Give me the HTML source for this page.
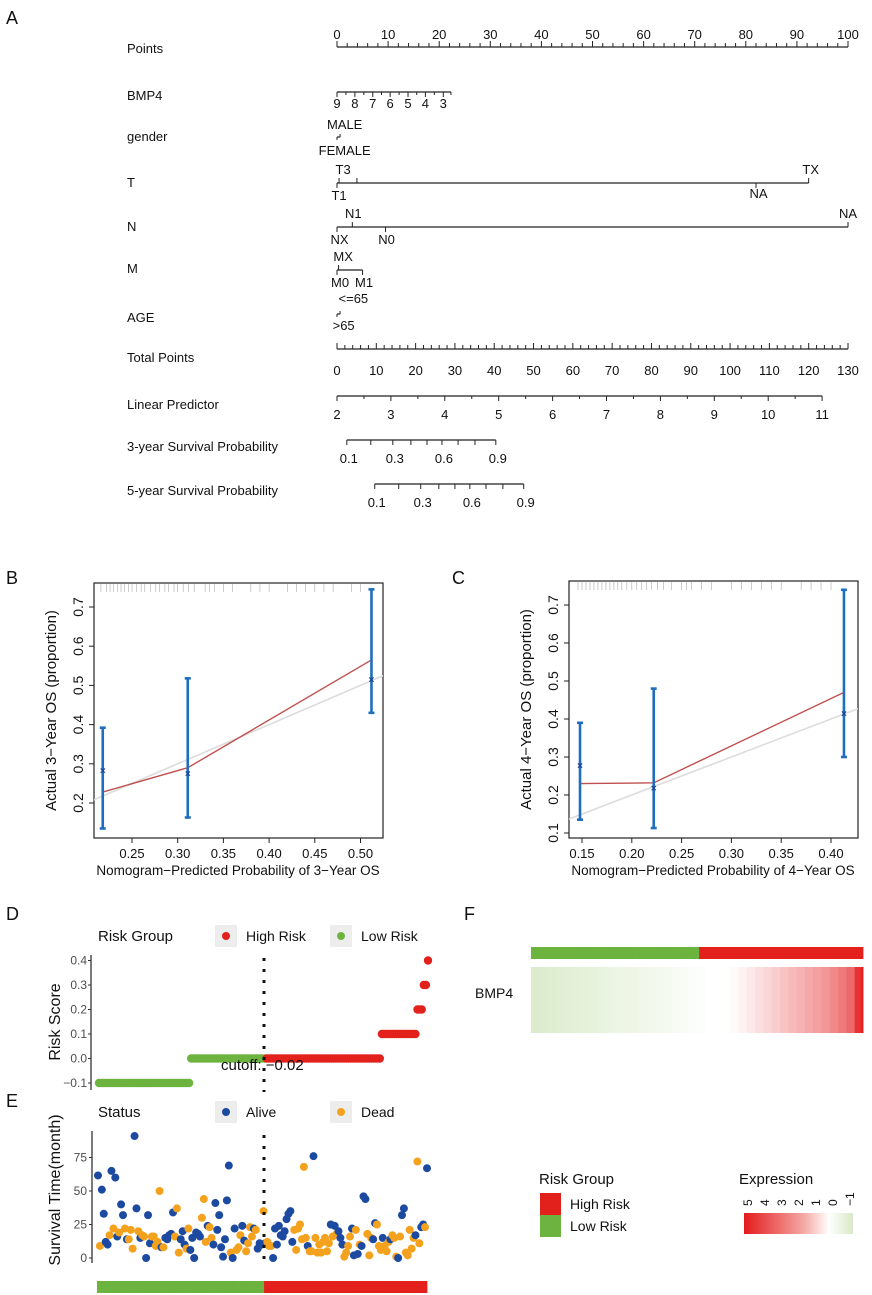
<!DOCTYPE html>
<html><head><meta charset="utf-8"><style>
html,body{margin:0;padding:0;background:#fff}
svg{display:block;font-family:"Liberation Sans",Arial,sans-serif}
</style></head><body>
<svg id="fig" width="872" height="1295" viewBox="0 0 872 1295" xmlns="http://www.w3.org/2000/svg">
<defs>
<linearGradient id="exprGrad" x1="0" x2="1" y1="0" y2="0">
<stop offset="0" stop-color="#e41a1c"/><stop offset="0.55" stop-color="#f4a9a4"/><stop offset="0.78" stop-color="#ffffff"/><stop offset="1" stop-color="#d8e8c8"/>
</linearGradient>
<clipPath id="clipB"><rect x="94" y="583" width="289" height="255"/></clipPath>
<clipPath id="clipC"><rect x="569" y="581" width="289" height="257"/></clipPath>
</defs>
<g font-size="18" fill="#111">
<text x="6" y="24">A</text>
<text x="6" y="584">B</text>
<text x="452" y="584">C</text>
<text x="6" y="920">D</text>
<text x="6" y="1107">E</text>
<text x="464" y="920">F</text>
</g>
<g id="nomo"></g>
<g id="calB"></g>
<g id="calC"></g>
<g id="panD"></g>
<g id="panE"></g>
<g id="panF"></g>
</svg>
<script>
// ---------- data ----------
const pointTicks=[0,10,20,30,40,50,60,70,80,90,100];
const bmp4Labels=[9,8,7,6,5,4,3];
const bmp4Points=[0,3.5,7,10.4,13.9,17.3,20.8];
const totalTicks=[0,10,20,30,40,50,60,70,80,90,100,110,120,130];
const lpTicks=[2,3,4,5,6,7,8,9,10,11];
const surv3Probs=[0.1,0.2,0.3,0.4,0.5,0.6,0.7,0.8,0.9];
const surv3Total=[2.5,8.6,14.2,18.8,22.9,26.7,30.8,35.1,40.4];
const surv5Total=[9.6,15.7,21.3,25.9,30,33.8,37.9,42.2,47.5];
const probLabels=["0.1","","0.3","","","0.6","","","0.9"];

const calBx=[0.218,0.311,0.512];
const calBobs=[0.283,0.275,0.515];
const calBlo=[0.135,0.163,0.43];
const calBhi=[0.392,0.518,0.745];
const calBfit=[0.228,0.29,0.565];
const calCx=[0.148,0.222,0.413];
const calCobs=[0.278,0.218,0.415];
const calClo=[0.135,0.113,0.30];
const calChi=[0.39,0.48,0.74];
const calCfit=[0.23,0.232,0.47];
const rugB=[0.216,0.222,0.226,0.23,0.234,0.238,0.242,0.246,0.25,0.255,0.26,0.264,0.27,0.276,0.28,0.286,0.29,0.296,0.3,0.306,0.312,0.318,0.33,0.335,0.34,0.35,0.36,0.38,0.39,0.4,0.42,0.43,0.44,0.45,0.46,0.47,0.49,0.5];
const rugC=[0.146,0.15,0.154,0.158,0.162,0.166,0.17,0.174,0.178,0.182,0.186,0.19,0.195,0.2,0.205,0.21,0.215,0.22,0.226,0.232,0.24,0.25,0.255,0.26,0.27,0.28,0.3,0.31,0.32,0.33,0.34,0.35,0.37,0.38,0.39,0.4];

const riskLevels=[-0.1,0.0,0.0,0.1,0.2,0.3,0.4];
const riskCounts=[44,36,55,17,3,2,1];
const riskHigh=[false,false,true,true,true,true,true];

const survTime=[61.6,9,51,33,12,10,17,65,22,60,16,19,40,32,22,14,14,21,7,91,37,20,15,17,16,0,32,11,16,16,9,12,50,8,8,15,14,17,18,34,16,37,4,14,20,10,7,22,6,15,0,19,18,16,30,44,12,24,23,15,10,41,21,32,8,1,14,43,69,4,0,22,6,8,17,24,13,5,11,23,16,22,21,7,11,10,35,11,12,9,9,0,22,10,24,17,16,20,29,33,35,12,21,6,22,25,14,68,15,9,5,5,76,15,4,10,4,12,15,5,11,25,16,24,18,20,15,10,1,4,9,16,22,2,21,3,10,9,46,44,18,2,15,14,26,25,9,6,15,9,5,12,14,17,15,1,0,16,32,37,4,2,21,7,15,17,72,11,23,25,23,67];
const survDead=[0,1,0,0,0,0,1,0,1,0,0,1,0,0,1,0,1,1,1,0,0,1,0,1,1,0,0,0,1,1,1,1,1,0,1,0,0,0,0,0,1,1,1,0,0,0,1,1,0,0,0,0,0,0,1,1,1,0,1,1,0,0,0,0,0,0,0,0,0,1,0,0,1,1,1,0,0,1,1,1,1,0,1,0,0,0,1,0,1,1,1,0,0,0,0,0,0,0,0,0,0,0,1,1,1,1,1,1,1,0,1,1,0,1,1,1,1,1,1,1,1,0,1,0,1,0,0,0,1,1,1,1,0,0,1,0,1,0,0,0,1,1,1,0,0,1,1,1,0,1,1,1,0,1,1,1,0,1,0,0,1,1,1,1,1,0,1,1,0,0,1,0];

const heatExpr=[-0.9,-0.85,-0.8,-0.75,-0.7,-0.68,-0.65,-0.6,-0.55,-0.5,-0.47,-0.44,-0.4,-0.36,-0.32,-0.28,-0.24,-0.2,-0.15,-0.1,-0.06,-0.02,0,0,0.1,0.3,0.5,0.7,0.9,1.1,1.3,1.5,1.7,1.9,2.1,2.3,2.6,2.9,3.3,4.5];
const exprLegendLabels=["5","4","3","2","1","0","\u22121"];

// ---------- helpers ----------
const NS="http://www.w3.org/2000/svg";
function mk(tag,attrs,parent){const e=document.createElementNS(NS,tag);for(const k in attrs)e.setAttribute(k,attrs[k]);parent.appendChild(e);return e;}
function txt(s,attrs,parent){const e=mk('text',attrs,parent);e.textContent=s;return e;}

// ---------- A: nomogram ----------
const N=document.getElementById('nomo');
const px=p=>337+p*5.11;
const tpx=t=>337+t*511/130;
const lpx=v=>337+(v-2)*53.9;
const LBL={'font-size':13,fill:'#111'};
function rowLabel(s,y){const t=txt(s,Object.assign({x:127,y:y},LBL),N);

}
function hline(x1,x2,y){const l=mk('line',{x1:x1,x2:x2,y1:y,y2:y,stroke:'#222','stroke-width':1.2},N);

}
function tick(x,y,d){const l=mk('line',{x1:x,x2:x,y1:y,y2:y+d,stroke:'#222','stroke-width':1},N);

}
function tlab(s,x,y){const t=txt(s,Object.assign({x:x,y:y,'text-anchor':'middle'},LBL),N);

}

rowLabel('Points',53);
hline(px(0),px(100),47);
for(let p=0;p<=100;p+=2)tick(px(p),47,p%10===0?-6:-4);
pointTicks.forEach(p=>tlab(String(p),px(p),39));

rowLabel('BMP4',100);
hline(px(0),px(22.3),92);
bmp4Points.forEach((p,i)=>{tick(px(p),92,5);tlab(String(bmp4Labels[i]),px(p),108);});
for(let i=0;i<bmp4Points.length-1;i++)tick(px((bmp4Points[i]+bmp4Points[i+1])/2),92,3);
tick(px(22.3),92,3);

rowLabel('gender',141);
tlab('MALE',px(1.5),129);tlab('FEMALE',px(1.5),155);
hline(px(0),px(0.6),137);tick(px(0),137,3);tick(px(0.6),137,-3);

rowLabel('T',187);
hline(px(0),px(92.3),183);
tick(px(0),183,5);tick(px(0.4),183,-5);tick(px(3.9),183,-5);tick(px(82),183,5);tick(px(92.3),183,-5);
tlab('T3',px(1.2),174);tlab('T1',px(0.4),200);tlab('NA',px(82.5),198);tlab('TX',px(92.7),174);

rowLabel('N',231);
hline(px(0),px(100),227);
tick(px(0),227,5);tick(px(3),227,-5);tick(px(9.5),227,5);tick(px(100),227,-5);
tlab('N1',px(3.2),218);tlab('NX',px(0.5),244);tlab('N0',px(9.7),244);tlab('NA',px(100),218);

rowLabel('M',273);
hline(px(0),px(5),270);
tick(px(0),270,5);tick(px(0.3),270,-5);tick(px(5),270,5);
tlab('MX',px(1.2),261);tlab('M0',px(0.6),287);tlab('M1',px(5.3),287);

rowLabel('AGE',322);
tlab('<=65',px(3.2),303);tlab('>65',px(1.3),330);
hline(px(0),px(0.6),314);tick(px(0),314,3);tick(px(0.6),314,-3);

rowLabel('Total Points',362);
hline(tpx(0),tpx(130),349);
for(let t=0;t<=130;t+=2)tick(tpx(t),349,t%10===0?-6:-4);
totalTicks.forEach(t=>tlab(String(t),tpx(t),375));

rowLabel('Linear Predictor',409);
hline(lpx(2),lpx(11),396);
for(let v=2;v<=11;v+=0.5)tick(lpx(v),396,Number.isInteger(v)?5:3);
lpTicks.forEach(v=>tlab(String(v),lpx(v),419));

rowLabel('3-year Survival Probability',451);
hline(tpx(surv3Total[0]),tpx(surv3Total[8]),440);
surv3Total.forEach((t,i)=>{tick(tpx(t),440,5);if(probLabels[i])tlab(probLabels[i],tpx(t)+2,463);});

rowLabel('5-year Survival Probability',495);
hline(tpx(surv5Total[0]),tpx(surv5Total[8]),484);
surv5Total.forEach((t,i)=>{tick(tpx(t),484,5);if(probLabels[i])tlab(probLabels[i],tpx(t)+2,507);});

// ---------- B/C calibration ----------
function calib(gid,frame,xs,ys,xTicks,xLabels,yTicks,data,rug,clip,ytitle,xtitle,titleX,ylabX){
  const G=document.getElementById(gid);
  const [L,R,T,B]=frame;
  const fr=mk('rect',{x:L,y:T,width:R-L,height:B-T,fill:'none',stroke:'#222','stroke-width':1.2},G);
  
  
  rug.forEach(v=>{const r=mk('line',{x1:xs(v),x2:xs(v),y1:T+1,y2:T+9,stroke:'#aaa','stroke-width':0.6},G);
    
    });
  xTicks.forEach((v,i)=>{const l=mk('line',{x1:xs(v),x2:xs(v),y1:B,y2:B+5,stroke:'#222'},G);
    
    
    const t=txt(xLabels[i],{x:xs(v),y:B+20,'text-anchor':'middle','font-size':13,fill:'#111'},G);
    
    });
  yTicks.forEach(v=>{const l=mk('line',{x1:L,x2:L-5,y1:ys(v),y2:ys(v),stroke:'#222'},G);
    
    
    const t=txt(v.toFixed(1),{x:0,y:0,transform:`translate(${ylabX},${ys(v)}) rotate(-90)`,'text-anchor':'middle','font-size':14,fill:'#111'},G);
    
    });
  const gc=mk('g',{'clip-path':`url(#${clip})`},G);
  const diag=mk('line',{x1:xs(0),y1:ys(0),x2:xs(1),y2:ys(1),stroke:'#dcdcdc','stroke-width':1.6},gc);
  
  
  const fit=mk('polyline',{points:data.x.map((v,i)=>xs(v)+','+ys(data.fit[i])).join(' '),fill:'none',stroke:'#c0504d','stroke-width':1.4},G);
  
  
  data.x.forEach((v,i)=>{
    const X=xs(v);
    const eb=mk('line',{x1:X,x2:X,y1:ys(data.lo[i]),y2:ys(data.hi[i]),stroke:'#1f6dbf','stroke-width':2.6},G);
    
    
    [data.lo[i],data.hi[i]].forEach(e=>{const c=mk('line',{x1:X-3,x2:X+3,y1:ys(e),y2:ys(e),stroke:'#1f6dbf','stroke-width':2.6},G);
      
      });
    const m=txt('×',{x:X,y:ys(data.obs[i])+3.5,'text-anchor':'middle','font-size':10,fill:'#1a3f8f','font-weight':'bold'},G);
    
    
  });
  const yt=txt(ytitle,{x:0,y:0,transform:`translate(${L-38},${(T+B)/2}) rotate(-90)`,'text-anchor':'middle','font-size':15,fill:'#111'},G);
  
  
  const xt=txt(xtitle,{x:titleX,y:B+37,'text-anchor':'middle','font-size':13.5,fill:'#111'},G);
  
  
}
calib('calB',[94,383,583,838],v=>132+(v-0.25)*914,v=>803-(v-0.2)*392,
  [0.25,0.30,0.35,0.40,0.45,0.50],["0.25","0.30","0.35","0.40","0.45","0.50"],[0.2,0.3,0.4,0.5,0.6,0.7],
  {x:calBx,obs:calBobs,lo:calBlo,hi:calBhi,fit:calBfit},rugB,'clipB',
  'Actual 3\u2212Year OS (proportion)','Nomogram\u2212Predicted Probability of 3\u2212Year OS',238,83);
calib('calC',[569,858,581,838],v=>582+(v-0.15)*996,v=>833-(v-0.1)*380,
  [0.15,0.20,0.25,0.30,0.35,0.40],["0.15","0.20","0.25","0.30","0.35","0.40"],[0.1,0.2,0.3,0.4,0.5,0.6,0.7],
  {x:calCx,obs:calCobs,lo:calClo,hi:calChi,fit:calCfit},rugC,'clipC',
  'Actual 4\u2212Year OS (proportion)','Nomogram\u2212Predicted Probability of 4\u2212Year OS',713,558);

// ---------- D ----------
const GREEN='#6db33f',RED='#e3211c';
const D=document.getElementById('panD');
function legend(G,title,items,y){
  const t=txt(title,{x:98,y:y+5,'font-size':15,fill:'#111'},G);
  
  
  items.forEach((it,i)=>{const bx=215+i*115;
    const k=mk('rect',{x:bx,y:y-11,width:22,height:22,fill:'#ededed'},G);
    
    
    const c=mk('circle',{cx:bx+11,cy:y,r:4,fill:it[1]},G);
    
    
    const l=txt(it[0],{x:bx+31,y:y+5,'font-size':14,fill:'#111'},G);
    
    });
}
legend(D,'Risk Group',[['High Risk',RED],['Low Risk',GREEN]],936);
const riskScores=[],riskIsHigh=[];
riskCounts.forEach((c,g)=>{for(let k=0;k<c;k++){riskScores.push(riskLevels[g]);riskIsHigh.push(riskHigh[g]);}});
const nD=riskScores.length;
const dX=i=>99+i*(329/(nD-1));
const dY=v=>1083-(v+0.1)*245;
const dax=mk('line',{x1:91,x2:91,y1:955,y2:1090,stroke:'#222','stroke-width':1.2},D);


[-0.1,0,0.1,0.2,0.3,0.4].forEach(v=>{
  const l=mk('line',{x1:88,x2:91,y1:dY(v),y2:dY(v),stroke:'#333'},D);
  
  
  const t=txt(v.toFixed(1).replace('-','\u2212'),{x:87,y:dY(v)+4,'text-anchor':'end','font-size':12,fill:'#4d4d4d'},D);
  
  });
const dyt=txt('Risk Score',{x:0,y:0,transform:'translate(60,1022) rotate(-90)','text-anchor':'middle','font-size':16,fill:'#111'},D);


riskScores.forEach((v,i)=>{const c=mk('circle',{cx:dX(i),cy:dY(v),r:4.2,fill:riskIsHigh[i]?RED:GREEN},D);
  
  });
const cut=mk('line',{x1:264,x2:264,y1:958,y2:1092,stroke:'#111','stroke-width':3,'stroke-dasharray':'3 8'},D);


const ctx=txt('cutoff: \u22120.02',{x:221,y:1070,'font-size':15,fill:'#111'},D);



// ---------- E ----------
const E=document.getElementById('panE');
legend(E,'Status',[['Alive','#1c4aa0'],['Dead','#f4a21d']],1112);
const nE=survTime.length;
const eX=i=>98+i*(329/(nE-1));
const eY=v=>1258-v*1.34;
const eax=mk('line',{x1:92,x2:92,y1:1131,y2:1263,stroke:'#222','stroke-width':1.2},E);


[0,25,50,75].forEach(v=>{
  const l=mk('line',{x1:89,x2:92,y1:eY(v),y2:eY(v),stroke:'#333'},E);
  
  
  const t=txt(String(v),{x:87,y:eY(v)+4,'text-anchor':'end','font-size':12,fill:'#4d4d4d'},E);
  
  });
const eyt=txt('Survival Time(month)',{x:0,y:0,transform:'translate(60,1190) rotate(-90)','text-anchor':'middle','font-size':16,fill:'#111'},E);


survTime.forEach((v,i)=>{const c=mk('circle',{cx:eX(i),cy:eY(v),r:4,fill:survDead[i]?'#f4a21d':'#1c4aa0'},E);
  
  });
const cut2=mk('line',{x1:264,x2:264,y1:1135,y2:1265,stroke:'#111','stroke-width':3,'stroke-dasharray':'3 8'},E);


function groupBar(G,x0,x1,y,h){const w=(x1-x0)/nD;
  riskIsHigh.forEach((hi,i)=>{const r=mk('rect',{x:x0+i*w,y:y,width:w+0.4,height:h,fill:hi?RED:GREEN},G);
    
    });}
groupBar(E,97,427,1281,12);

// ---------- F ----------
const F=document.getElementById('panF');
groupBar(F,531,863,947,12);
function exprColor(v){
  if(v<=0){const t=Math.min(1,-v);const r=Math.round(255-t*40),g=Math.round(255-t*22),b=Math.round(255-t*58);return `rgb(${r},${g},${b})`;}
  const t=Math.min(1,v/5);return `rgb(${Math.round(255-t*27)},${Math.round(255-t*229)},${Math.round(255-t*227)})`;}
const cw=332/heatExpr.length;
heatExpr.forEach((v,i)=>{const r=mk('rect',{x:531+i*cw,y:967,width:cw+0.5,height:66,fill:exprColor(v)},F);
  
  });
const edge=mk('rect',{x:861,y:967,width:2,height:66,fill:RED},F);


const bl=txt('BMP4',{x:475,y:998,'font-size':14,fill:'#111'},F);


const rgt=txt('Risk Group',{x:539,y:1184,'font-size':15,fill:'#111'},F);


[['High Risk',RED,1193],['Low Risk',GREEN,1215]].forEach(it=>{
  const r=mk('rect',{x:540,y:it[2],width:21,height:22,fill:it[1]},F);
  
  
  const t=txt(it[0],{x:570,y:it[2]+16,'font-size':14,fill:'#111'},F);
  
  });
const ext=txt('Expression',{x:739,y:1184,'font-size':15,fill:'#111'},F);


const eg=mk('rect',{x:744,y:1213,width:109,height:21,fill:'url(#exprGrad)'},F);


exprLegendLabels.forEach((s,i)=>{const x=748+i*17;
  const t=txt(s,{x:0,y:0,transform:`translate(${x+4},1206) rotate(-90)`,'font-size':12,fill:'#111'},F);
  
  });
</script>
</body></html>
